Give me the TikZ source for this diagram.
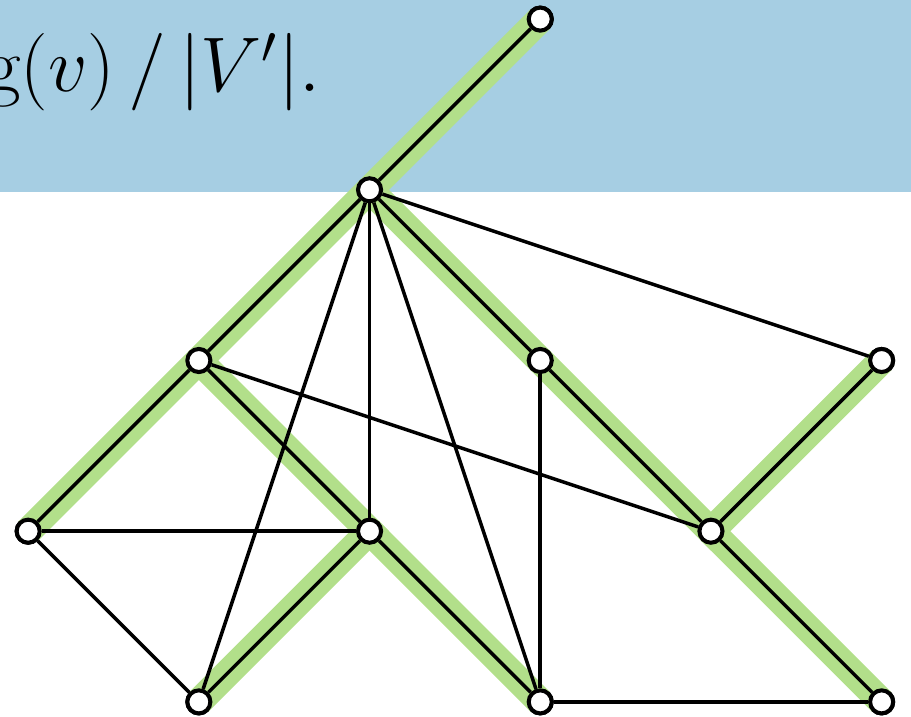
\documentclass[tikz,border=0pt]{standalone}
\usepackage{amsmath,amssymb}
\usepackage{xcolor}
\usepackage{tikz}
\usetikzlibrary{positioning}
\definecolor{bandblue}{HTML}{A6CEE3}
\definecolor{treegreen}{HTML}{B2DF8A}
\begin{document}
\begin{tikzpicture}[x=1.702cm,y=1.702cm,
  vtx/.style={circle,draw=black,fill=white,line width=1.15pt,minimum size=2.3mm,inner sep=0pt},
  tree/.style={treegreen,line width=7.8pt},
  edge/.style={black,line width=1pt},
  formula/.style={anchor=base west,inner sep=0pt,scale=1.06,transform shape,font=\fontsize{20.74}{25}\selectfont}]
\useasboundingbox (-0.165,-0.088) rectangle (5.172,4.112);
% band
\fill[bandblue] (-0.165,2.99) rectangle (5.172,4.112);
\node[formula] (lbl) at (-0.255,3.578) {$\mathrm{g}(v)\,/\,|V'|.$};
% vertices
\node[vtx] (t)  at (3,4) {};
\node[vtx] (r)  at (2,3) {};
\node[vtx] (a1) at (1,2) {};
\node[vtx] (a2) at (3,2) {};
\node[vtx] (a3) at (5,2) {};
\node[vtx] (b1) at (0,1) {};
\node[vtx] (b2) at (2,1) {};
\node[vtx] (b3) at (4,1) {};
\node[vtx] (c1) at (1,0) {};
\node[vtx] (c2) at (3,0) {};
\node[vtx] (c3) at (5,0) {};
% spanning tree
\draw[tree] (t.center) -- (r.center) -- (a1.center) -- (b1.center);
\draw[tree] (a1.center) -- (b2.center) -- (c1.center);
\draw[tree] (b2.center) -- (c2.center);
\draw[tree] (r.center) -- (a2.center) -- (b3.center) -- (a3.center);
\draw[tree] (b3.center) -- (c3.center);
% edges
\foreach \u/\v in {t/r,r/a1,a1/b1,a1/b2,b2/c1,b2/c2,r/a2,a2/b3,b3/a3,b3/c3,
                   r/a3,r/b2,r/c1,r/c2,a1/b3,a2/c2,b1/b2,b1/c1,c2/c3}
  \draw[edge] (\u) -- (\v);
% redraw vertices on top
\foreach \n in {t,r,a1,a2,a3,b1,b2,b3,c1,c2,c3}
  \node[vtx] at (\n) {};
\end{tikzpicture}
\end{document}
